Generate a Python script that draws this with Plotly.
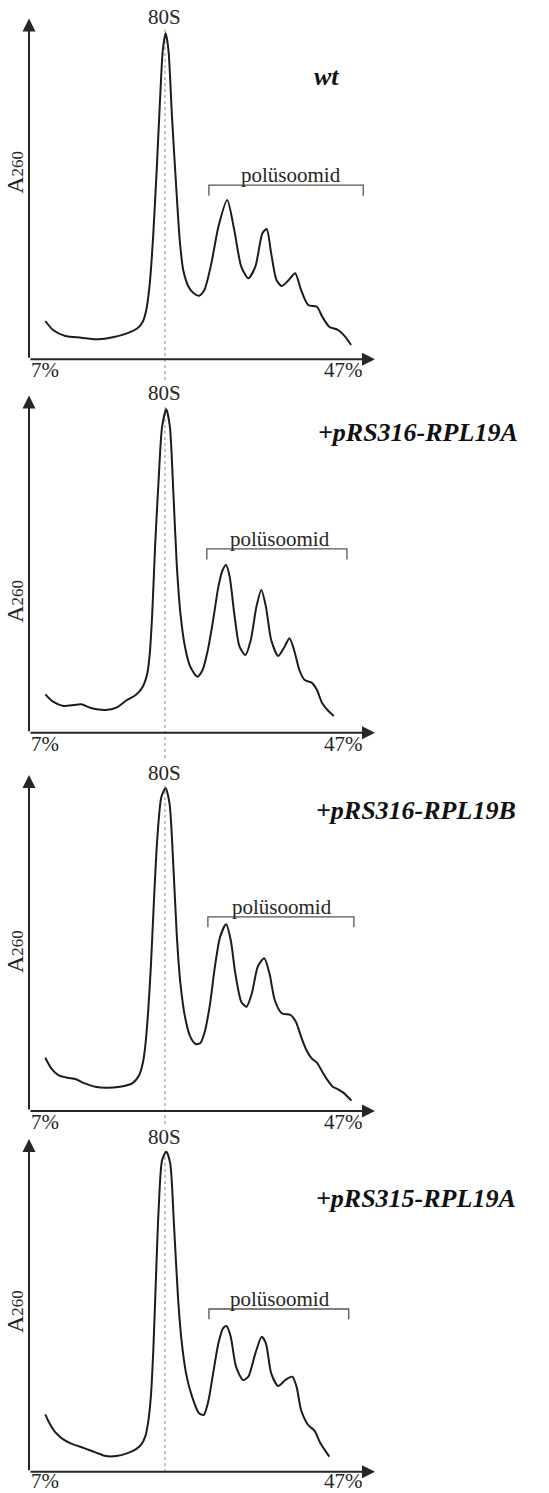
import plotly.graph_objects as go

# Sucrose-gradient polysome profiles (7%-47%), A260 in relative units.
# x: position along the gradient (0 = top of tube, 100 = end of axis)

wt_pos = [4.71, 6.95, 10.50, 15.08, 20.17, 24.23, 28.30, 31.35, 32.88, 33.90, 34.91, 35.93,
          36.95, 37.96, 38.68, 39.49, 40.30, 41.32, 42.54, 43.56, 44.57, 46.10, 47.63, 49.15,
          50.68, 52.71, 54.74, 57.29, 59.32, 61.35, 63.39, 65.42, 67.46, 68.68, 70.00, 71.52,
          73.05, 75.08, 76.91, 78.64, 80.68, 83.22, 84.75, 86.78, 89.32, 91.36, 93.08]
wt_a260 = [11.24, 8.60, 6.84, 6.35, 5.86, 6.45, 7.62, 9.09, 11.04, 14.47, 22.29, 36.96,
           56.52, 78.04, 90.76, 95.65, 90.76, 71.19, 50.65, 35.01, 26.20, 21.31, 19.36, 18.67,
           20.33, 28.16, 38.92, 46.74, 37.94, 27.18, 23.76, 27.18, 36.96, 38.23, 31.09, 23.27,
           21.51, 23.27, 25.23, 20.33, 15.93, 15.44, 12.51, 9.57, 8.60, 6.64, 4.20]

p316a_pos = [4.71, 6.95, 10.00, 13.05, 15.08, 18.13, 22.20, 25.25, 28.30, 30.84, 32.88, 34.20,
             34.91, 35.62, 36.44, 37.46, 38.47, 39.69, 40.71, 41.73, 42.74, 43.76, 45.08, 46.61,
             48.64, 50.17, 51.69, 53.22, 54.74, 55.96, 56.98, 58.00, 59.32, 60.85, 62.57, 64.10,
             65.73, 67.15, 68.47, 70.00, 72.03, 73.86, 75.29, 76.61, 78.14, 79.66, 81.69, 83.22,
             84.75, 86.27, 88.10]
p316a_a260 = [11.38, 9.20, 7.92, 8.21, 8.41, 7.23, 6.73, 7.42, 9.70, 11.18, 13.65, 17.61,
              23.54, 35.40, 55.17, 74.94, 90.76, 95.90, 90.76, 70.99, 49.24, 35.40, 25.51, 19.58,
              16.62, 18.59, 24.53, 33.42, 43.31, 48.25, 49.73, 46.27, 35.40, 25.51, 23.04, 27.49,
              37.38, 42.32, 37.38, 27.49, 22.75, 25.51, 27.99, 24.53, 18.59, 15.63, 14.84, 12.66,
              8.71, 6.73, 4.95]

p316b_pos = [4.71, 6.44, 8.47, 11.01, 13.56, 16.10, 19.15, 22.20, 26.27, 29.83, 31.86, 32.88,
             33.59, 34.40, 35.22, 36.03, 37.05, 38.27, 39.49, 40.61, 41.73, 42.74, 43.76, 45.08,
             46.61, 48.13, 49.46, 50.68, 52.20, 53.73, 55.25, 56.98, 58.30, 59.63, 61.35, 62.88,
             64.41, 66.13, 67.97, 69.49, 71.02, 73.05, 75.59, 77.12, 78.64, 80.17, 81.69, 83.22,
             84.75, 86.27, 87.80, 89.32, 90.85, 93.19]
p316b_a260 = [15.87, 12.70, 10.71, 9.92, 9.43, 8.24, 7.24, 6.94, 7.24, 8.24, 10.71, 14.19,
              19.15, 29.07, 42.96, 60.81, 80.65, 93.55, 96.03, 91.57, 72.72, 51.88, 38.00, 28.07,
              22.12, 19.94, 20.14, 23.12, 31.05, 42.96, 51.88, 55.56, 50.89, 40.97, 32.54, 31.05,
              35.02, 42.96, 45.44, 40.97, 33.04, 29.07, 28.57, 26.59, 22.12, 18.15, 15.67, 14.38,
              11.71, 9.23, 7.24, 6.45, 5.46, 3.08]

p315a_pos = [4.71, 5.93, 7.45, 9.49, 12.03, 16.10, 19.15, 22.20, 25.25, 28.30, 30.84, 32.37,
             33.59, 34.40, 35.22, 35.93, 36.64, 37.46, 38.47, 39.69, 40.81, 41.83, 43.05, 44.07,
             45.39, 47.12, 49.15, 50.47, 51.69, 53.22, 54.74, 56.07, 57.08, 58.30, 59.83, 61.86,
             63.39, 65.42, 67.25, 68.47, 70.00, 72.03, 74.07, 76.10, 77.32, 78.64, 80.68, 82.51,
             84.24, 86.78]
p315a_a260 = [17.24, 14.54, 12.03, 10.03, 8.53, 7.02, 5.82, 4.72, 4.72, 5.52, 6.72, 8.03,
              10.53, 14.54, 22.55, 36.58, 56.62, 78.66, 93.69, 96.19, 92.69, 75.65, 52.61, 39.59,
              29.57, 22.55, 17.54, 17.04, 20.55, 29.57, 38.58, 43.09, 43.79, 40.59, 31.57, 27.56,
              28.56, 35.58, 40.59, 38.58, 29.57, 25.76, 27.56, 28.56, 25.56, 18.55, 14.04, 12.33,
              8.53, 4.52]

strain_labels = ["wt", "+pRS316-RPL19A", "+pRS316-RPL19B", "+pRS315-RPL19A"]
positions = [wt_pos, p316a_pos, p316b_pos, p315a_pos]
absorbance = [wt_a260, p316a_a260, p316b_a260, p315a_a260]

# polysome bracket: [start, end, level] per panel
bracket_start = [52.0, 51.4, 51.7, 52.0]
bracket_end = [96.6, 91.9, 93.9, 92.4]
bracket_level = [51.1, 54.5, 57.8, 48.9]

monosome_pos = 39.3          # 80S peak position
gradient_ticks = ["7%", "47%"]
gradient_tick_pos = [0.0, 90.8]

# layout geometry of the four stacked panels (pixels from top)
H, W = 1493, 549
panel_px = [(18.5, 359.3), (395.5, 732.7), (775.0, 1111.0), (1139.0, 1471.7)]
x_dom = [29 / W, 375 / W]
label_px = [(326, 76), (417.7, 433), (416, 810), (416, 1198)]
label_80s_y = [17.5, 393.3, 773.3, 1136.7]
ylabel_y = [55.0, 39.1, 47.6, 48.3]
poly_text_x = [75.6, 72.5, 73.0, 72.5]
tick_shift = [3, 3, 3, 5]

SERIF = "Liberation Serif, Times New Roman, serif"
INK = "#1c1c1c"
TXT = "#262626"

fig = go.Figure()
annotations = []
shapes = []

for i in range(4):
    n = "" if i == 0 else str(i + 1)
    xk, yk = "x" + n, "y" + n
    top_px, bot_px = panel_px[i]
    fig.update_layout(**{
        "xaxis" + n: dict(domain=x_dom, range=[0, 100], visible=False, fixedrange=True,
                          anchor=yk),
        "yaxis" + n: dict(domain=[(H - bot_px) / H, (H - top_px) / H], range=[0, 100],
                          visible=False, fixedrange=True, anchor=xk),
    })

    # absorbance profile
    fig.add_trace(go.Scatter(
        x=positions[i], y=absorbance[i], mode="lines", xaxis=xk, yaxis=yk,
        line=dict(color=INK, width=2, shape="spline", smoothing=0.7),
        hoverinfo="skip", showlegend=False))

    # polysome bracket
    b0, b1, lv = bracket_start[i], bracket_end[i], bracket_level[i]
    fig.add_trace(go.Scatter(
        x=[b0, b0, b1, b1], y=[lv - 3.1, lv, lv, lv - 3.1], mode="lines",
        xaxis=xk, yaxis=yk, line=dict(color="#555555", width=1.3),
        hoverinfo="skip", showlegend=False))

    # axes with arrowheads
    for tx, ty in [(100, 0), (0, 100)]:
        annotations.append(dict(
            x=tx, y=ty, ax=0, ay=0, xref=xk, yref=yk, axref=xk, ayref=yk,
            showarrow=True, arrowhead=2, arrowsize=1.3, arrowwidth=2,
            arrowcolor="#262626", text=""))

    # gradient end labels
    annotations.append(dict(x=gradient_tick_pos[0], y=0, xref=xk, yref=yk, text=gradient_ticks[0],
                            showarrow=False, xanchor="left", yanchor="top", yshift=tick_shift[i],
                            font=dict(family=SERIF, size=21, color=TXT)))
    annotations.append(dict(x=gradient_tick_pos[1], y=0, xref=xk, yref=yk, text=gradient_ticks[1],
                            showarrow=False, xanchor="center", yanchor="top", yshift=tick_shift[i],
                            font=dict(family=SERIF, size=21, color=TXT)))

    # 80S label
    annotations.append(dict(x=monosome_pos, y=(H - label_80s_y[i]) / H, xref=xk, yref="paper",
                            text="80S", showarrow=False, xanchor="center", yanchor="middle",
                            bgcolor="white", borderpad=0,
                            font=dict(family=SERIF, size=21, color=TXT)))

    # polysome label
    annotations.append(dict(x=poly_text_x[i], y=bracket_level[i] + 3, xref=xk, yref=yk,
                            text="polüsoomid", showarrow=False, xanchor="center",
                            yanchor="middle",
                            font=dict(family=SERIF, size=21, color=TXT)))

    # strain label
    lx, ly = label_px[i]
    annotations.append(dict(x=lx / W, y=(H - ly) / H, xref="paper", yref="paper",
                            text="<b><i>" + strain_labels[i] + "</i></b>", showarrow=False,
                            xanchor="center", yanchor="middle",
                            font=dict(family=SERIF, size=26, color="#111111")))

    # y-axis title
    annotations.append(dict(x=0, y=ylabel_y[i], xref=xk, yref=yk,
                            text="A<span style='font-size:17px'>260</span>",
                            showarrow=False, textangle=-90, xanchor="right", yanchor="middle",
                            xshift=1,
                            font=dict(family=SERIF, size=24, color=TXT)))

# dotted marker line through the 80S peaks of all panels
shapes.append(dict(type="line", xref="x", yref="paper", x0=monosome_pos, x1=monosome_pos,
                   y0=(H - 1472) / H, y1=(H - 27) / H,
                   line=dict(color="#8a8a8a", width=1, dash="dot"), layer="below"))

fig.update_layout(
    width=W, height=H, margin=dict(l=0, r=0, t=0, b=0),
    paper_bgcolor="white", plot_bgcolor="rgba(0,0,0,0)",
    annotations=annotations, shapes=shapes, showlegend=False,
)

fig.write_html("out.html")
